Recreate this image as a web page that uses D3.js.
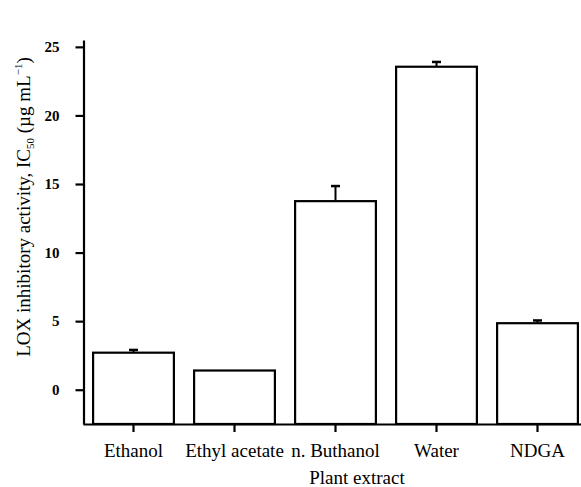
<!DOCTYPE html>
<html>
<head>
<meta charset="utf-8">
<script src="https://cdn.jsdelivr.net/npm/d3@7"></script>
<style>
  body { margin: 0; background: #fff; }
  svg text { font-family: "Liberation Serif", "Times New Roman", serif; fill: #000; }
</style>
</head>
<body>
<div class="plot"></div>
<script>
// Data
const extracts = ["Ethanol", "Ethyl acetate", "n. Buthanol", "Water", "NDGA"];
const ic50 = [2.7, 1.4, 13.75, 23.55, 4.85];
const sem = [0.2, 0, 1.1, 0.35, 0.2];
const yTicks = [0, 5, 10, 15, 20, 25];

const W = 581, H = 487;

const svg = d3.select(".plot")
    .append("svg")
        .attr("width", W)
        .attr("height", H);

// scales
const x = d3.scaleBand()
    .domain(extracts)
    .range([83, 588])
    .paddingInner(0.2)
    .paddingOuter(0.1);

const y = d3.scaleLinear()
    .domain([-2.5, 25.5])
    .range([424, 40]);

const rows = extracts.map((d, i) => ({name: d, v: ic50[i], e: sem[i]}));

// bars
svg.selectAll("rect.bar")
    .data(rows)
    .enter()
    .append("rect")
        .attr("class", "bar")
        .attr("x", d => x(d.name))
        .attr("y", d => y(d.v))
        .attr("width", x.bandwidth())
        .attr("height", d => y(-2.5) - y(d.v))
        .attr("fill", "#fff")
        .attr("stroke", "#000")
        .attr("stroke-width", 2.2);

// error bars (upper only)
const err = svg.selectAll("g.err")
    .data(rows.filter(d => d.e > 0))
    .enter()
    .append("g")
        .attr("class", "err");

err.append("line")
    .attr("x1", d => x(d.name) + x.bandwidth() / 2)
    .attr("x2", d => x(d.name) + x.bandwidth() / 2)
    .attr("y1", d => y(d.v))
    .attr("y2", d => y(d.v + d.e))
    .attr("stroke", "#000")
    .attr("stroke-width", 2);

err.append("line")
    .attr("x1", d => x(d.name) + x.bandwidth() / 2 - 4.5)
    .attr("x2", d => x(d.name) + x.bandwidth() / 2 + 4.5)
    .attr("y1", d => y(d.v + d.e))
    .attr("y2", d => y(d.v + d.e))
    .attr("stroke", "#000")
    .attr("stroke-width", 2.5);

// y axis
const yAxis = svg.append("g")
    .attr("transform", "translate(83.5,0)")
    .call(d3.axisLeft(y).tickValues(yTicks).tickSize(8).tickSizeOuter(0).tickPadding(16));

yAxis.selectAll("text")
    .style("font-size", "15px")
    .style("font-weight", "bold")
    .style("font-family", "'Liberation Serif', serif");

// x axis
const xAxis = svg.append("g")
    .attr("transform", "translate(0,424)")
    .call(d3.axisBottom(x).tickSize(8).tickSizeOuter(0).tickPadding(12));

xAxis.selectAll("text")
    .style("font-size", "19px")
    .style("font-family", "'Liberation Serif', serif");

svg.selectAll(".domain").attr("stroke-width", 2.2);
svg.selectAll(".tick line").attr("stroke-width", 2.2);

// axis titles
svg.append("text")
    .attr("x", 357)
    .attr("y", 484)
    .attr("text-anchor", "middle")
    .style("font-size", "19px")
    .text("Plant extract");

const yt = svg.append("text")
    .attr("transform", "translate(30,207) rotate(-90)")
    .attr("text-anchor", "middle")
    .style("font-size", "19px");
yt.append("tspan").text("LOX inhibitory activity, IC");
yt.append("tspan").attr("dy", 4).style("font-size", "11px").text("50");
yt.append("tspan").attr("dy", -4).text(" (\u00b5g mL");
yt.append("tspan").attr("dy", -8).style("font-size", "11px").text("\u22121");
yt.append("tspan").attr("dy", 8).text(")");
</script>
</body>
</html>
